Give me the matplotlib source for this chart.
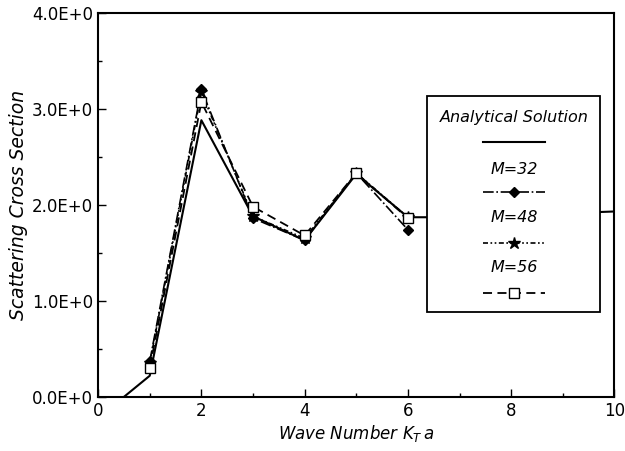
import matplotlib.pyplot as plt
from matplotlib.lines import Line2D
from matplotlib.patches import Rectangle
from matplotlib.ticker import MultipleLocator, FuncFormatter

# data
x_exact = [0.5, 1, 2, 3, 4, 5, 6, 7, 8, 9, 10]
y_exact = [0.0, 0.22, 2.88, 1.88, 1.63, 2.32, 1.87, 1.87, 1.89, 1.91, 1.93]

x_num = [1, 2, 3, 4, 5, 6]
y_m32 = [0.37, 3.20, 1.86, 1.63, 2.33, 1.74]
y_m48 = [0.35, 3.17, 1.88, 1.65, 2.33, 1.87]
y_m56 = [0.30, 3.07, 1.98, 1.68, 2.33, 1.86]

labels = ['Analytical Solution', 'M=32', 'M=48', 'M=56']

plt.rcParams['font.family'] = ['DejaVu Sans']

fig = plt.figure(figsize=(6.25, 4.51), dpi=100)
ax = fig.add_axes([0.157, 0.12, 0.826, 0.852])

styles = [
    dict(color='black', lw=1.5, ls='-'),
    dict(color='black', lw=1.2, ls='-.', marker='D', ms=5.5, mfc='black'),
    dict(color='black', lw=1.2, ls=(0, (3, 1.5, 1, 1.5, 1, 1.5)), marker='*', ms=9, mfc='black'),
    dict(color='black', lw=1.3, ls=(0, (5, 3)), marker='s', ms=7, mfc='white'),
]

ax.plot(x_exact, y_exact, zorder=3, **styles[0])
ax.plot(x_num, y_m32, zorder=4, **styles[1])
ax.plot(x_num, y_m48, zorder=4, **styles[2])
ax.plot(x_num, y_m56, zorder=5, **styles[3])

ax.set_xlim(0, 10)
ax.set_ylim(0, 4)
ax.xaxis.set_major_locator(MultipleLocator(2))
ax.xaxis.set_minor_locator(MultipleLocator(1))
ax.yaxis.set_major_locator(MultipleLocator(1))
ax.yaxis.set_minor_locator(MultipleLocator(0.5))
ax.yaxis.set_major_formatter(FuncFormatter(lambda v, p: f'{v:.1f}E+0'))
ax.tick_params(which='both', direction='in', top=False, right=False, labelsize=12)
ax.tick_params(which='major', length=6, width=1)
ax.tick_params(which='minor', length=3, width=1)
for s in ax.spines.values():
    s.set_linewidth(1.5)

ax.set_xlabel('Wave Number $K_T\\,a$', fontsize=12, style='italic', labelpad=2)
ax.set_ylabel('Scattering Cross Section', fontsize=13.5, style='italic', labelpad=3)

# hand-drawn legend box: label above its line sample
x0, x1, y0, y1 = 0.638, 0.973, 0.221, 0.784
ax.add_patch(Rectangle((x0, y0), x1 - x0, y1 - y0, transform=ax.transAxes,
                       facecolor='white', edgecolor='black', lw=1.3, zorder=10))
xc = (x0 + x1) / 2
text_y = [0.727, 0.591, 0.466, 0.336]
line_y = [0.664, 0.534, 0.401, 0.271]
for lab, st, ty, ly in zip(labels, styles, text_y, line_y):
    ax.text(xc, ty, lab, transform=ax.transAxes, ha='center', va='center',
            fontsize=11.5, style='italic', zorder=11)
    sample = Line2D([xc - 0.06, xc, xc + 0.06], [ly, ly, ly], transform=ax.transAxes,
                    zorder=11, markevery=[1] if 'marker' in st else None, **st)
    ax.add_line(sample)

fig.savefig('out.png', dpi=100)
